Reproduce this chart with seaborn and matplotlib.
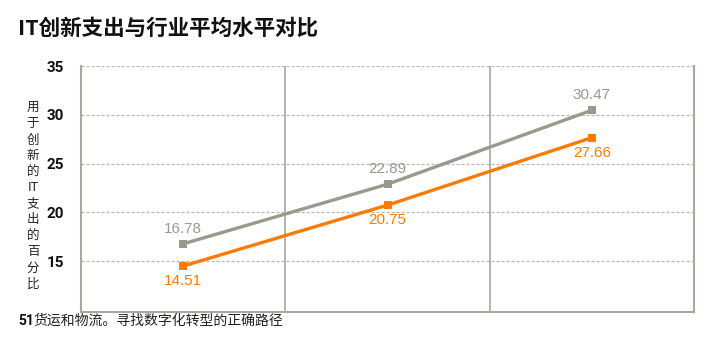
import matplotlib
matplotlib.use("Agg")
import matplotlib.pyplot as plt
import seaborn as sns
import pandas as pd

categories = ["A", "B", "C"]
industry_avg = [16.78, 22.89, 30.47]
company = [14.51, 20.75, 27.66]
yticks = [15, 20, 25, 30, 35]

sns.set_theme(style="white")
plt.rcParams['font.family'] = ['Noto Sans CJK SC', 'DejaVu Sans']

gray = "#9a998e"
orange = "#ff7a00"
latin = "Liberation Sans"
boldfam = "Roboto"

df = pd.DataFrame({
    "x": list(range(len(categories))) * 2,
    "value": industry_avg + company,
    "series": ["avg"] * 3 + ["co"] * 3,
})

fig = plt.figure(figsize=(7.06, 3.4), dpi=100)
ax = fig.add_axes([81/706, 1-312/340, (694-81)/706, (312-66)/340])

sns.lineplot(data=df, x="x", y="value", hue="series", palette={"avg": gray, "co": orange},
             marker="s", markersize=6, markeredgewidth=0, linewidth=2.4, ax=ax, legend=False)

ax.set_xlim(-0.5, 2.5)
ax.set_ylim(9.8, 35)
ax.set_yticks(yticks)
ax.set_yticklabels([str(t) for t in yticks])
for lbl in ax.get_yticklabels():
    lbl.set_fontfamily(boldfam)
    lbl.set_fontweight("bold")
    lbl.set_fontsize(11)
    lbl.set_color("#111111")
ax.set_xticks([])
ax.set_xlabel("")
ax.set_ylabel("")
ax.tick_params(axis="y", length=0, pad=12)

for t in yticks:
    ax.axhline(t, color="#b8b8b2", linestyle=(0, (2.5, 1.5)), linewidth=0.9, zorder=0)
for xv in [0.5, 1.5]:
    ax.axvline(xv, color="#a8a89c", linewidth=1.2, zorder=0)

for side in ["left", "right", "bottom"]:
    ax.spines[side].set_color("#a8a89c")
    ax.spines[side].set_linewidth(1.5)
ax.spines["top"].set_visible(False)

for i, v in enumerate(industry_avg):
    ax.annotate(f"{v:.2f}", (i, v), xytext=(0, 6), textcoords="offset points",
                ha="center", va="bottom", color=gray, fontsize=11, family=latin)
for i, v in enumerate(company):
    ax.annotate(f"{v:.2f}", (i, v), xytext=(0, -6), textcoords="offset points",
                ha="center", va="top", color=orange, fontsize=11, family=latin)

fig.text(18/706, 1-28/340, "IT创新支出与行业平均水平对比", fontsize=15.5, fontweight="bold",
         va="center", ha="left", color="#111111")

chars = ["用", "于", "创", "新", "的", "IT", "支", "出", "的", "百", "分", "比"]
fig.text(33/706, 1-196/340, "\n".join(chars), fontsize=9, va="center", ha="center",
         linespacing=1.3, color="#222222")

fig.text(18/706, 1-321/340, "51", fontsize=10, fontweight="bold", va="center", ha="left",
         family=boldfam, color="#111111")
fig.text(33/706, 1-321/340, "货运和物流。寻找数字化转型的正确路径", fontsize=10, va="center",
         ha="left", color="#222222")

fig.savefig("out.png", dpi=100)
